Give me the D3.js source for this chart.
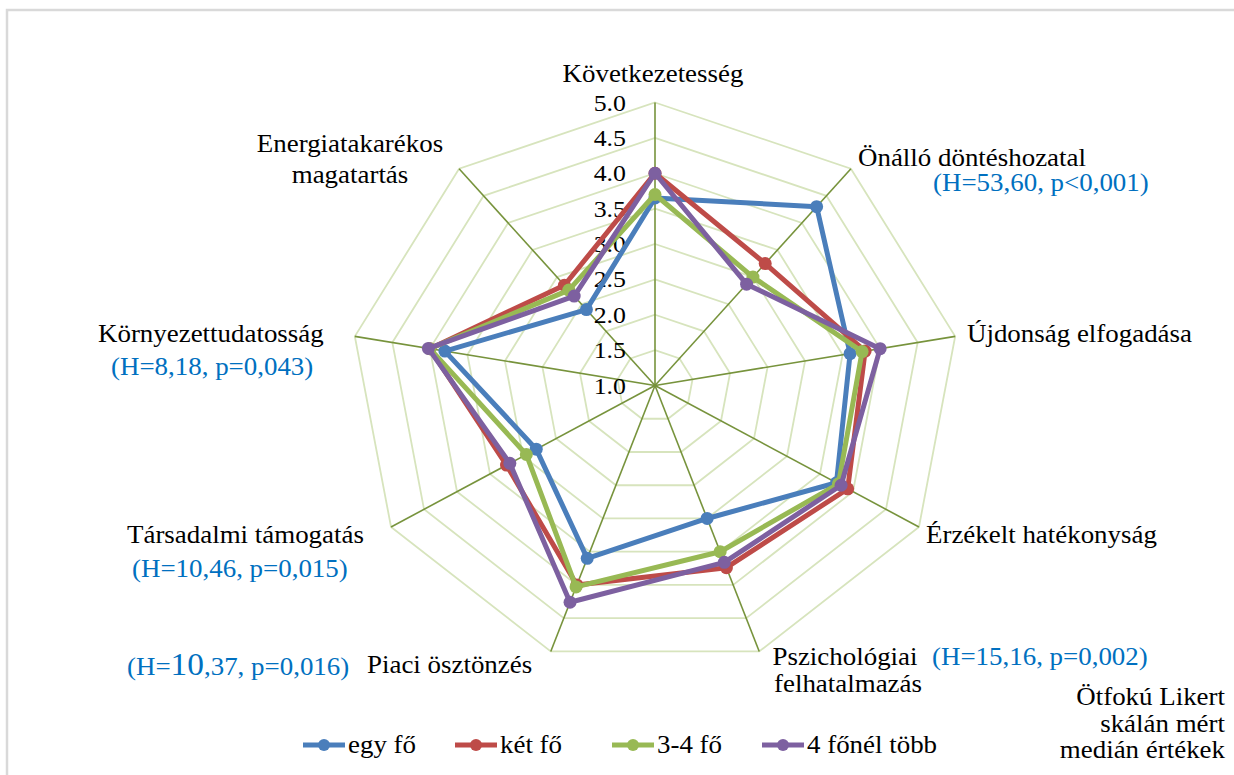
<!DOCTYPE html>
<html>
<head>
<meta charset="utf-8">
<script src="https://cdn.jsdelivr.net/npm/d3@7"></script>
<style>
  body { margin: 0; background: #fff; }
</style>
</head>
<body>
<div id="chart"></div>
<script>
// axis names, clockwise from the top
var axes = ["Következetesség", "Önálló döntéshozatal", "Újdonság elfogadása",
  "Érzékelt hatékonyság", "Pszichológiai felhatalmazás", "Piaci ösztönzés",
  "Társadalmi támogatás", "Környezettudatosság", "Energiatakarékos magatartás"];

var seriesNames = ["egy fő", "két fő", "3-4 fő", "4 főnél több"];

// median values
var egyFo   = [3.65, 4.3, 3.6, 3.75, 3.0, 3.6, 2.8, 3.8, 2.4];
var ketFo   = [4.0, 3.25, 3.8, 3.92, 3.74, 4.0, 3.25, 4.0, 2.85];
var haromNegy = [3.7, 3.0, 3.76, 3.78, 3.5, 4.03, 2.95, 4.0, 2.76];
var tobb    = [4.0, 2.87, 4.0, 3.82, 3.66, 4.26, 3.2, 4.02, 2.65];

var tickValues = [1.0, 1.5, 2.0, 2.5, 3.0, 3.5, 4.0, 4.5, 5.0];

var colors = ["#4a7ebb", "#be4b48", "#98b954", "#7d60a0"];

var svgWidth = 1234, svgHeight = 775;
var cx = 655, cy = 385.5, R = 283;
var SX = 1.077; // picture is a bit wider than tall
var serif = "'Liberation Serif', 'Times New Roman', 'DejaVu Serif', serif";

var svg = d3.select("#chart").append("svg")
  .attr("width", svgWidth)
  .attr("height", svgHeight);

// frame
svg.append("path")
  .attr("d", "M7," + svgHeight + " L7,10 L" + svgWidth + ",10")
  .attr("fill", "none")
  .attr("stroke", "#d9d9d9")
  .attr("stroke-width", 2.5);

var rScale = d3.scaleLinear().domain([1, 5]).range([0, R]);
var angle = d3.scaleLinear().domain([0, axes.length]).range([0, 2 * Math.PI]);

function px(i, v) { return cx + rScale(v) * Math.sin(angle(i)) * SX; }
function py(i, v) { return cy - rScale(v) * Math.cos(angle(i)); }

var idx = d3.range(axes.length);

// rings
var ringLine = d3.line().curve(d3.curveLinearClosed);
tickValues.slice(1).forEach(function(t) {
  svg.append("path")
    .attr("d", ringLine(idx.map(i => [px(i, t), py(i, t)])))
    .attr("fill", "none")
    .attr("stroke", "#d7e4bd")
    .attr("stroke-width", 1.8);
});

// spokes
svg.selectAll(".spoke").data(idx).enter().append("line")
  .attr("x1", cx).attr("y1", cy)
  .attr("x2", i => px(i, 5)).attr("y2", i => py(i, 5))
  .attr("stroke", "#77933c")
  .attr("stroke-width", 1.6);

function addText(x, y, str, anchor, color, size) {
  return svg.append("text")
    .attr("transform", "translate(" + x + "," + y + ") scale(" + SX + ",1)")
    .attr("text-anchor", anchor || "start")
    .attr("fill", color || "#000")
    .style("font-family", serif)
    .style("font-size", (size || 25) + "px")
    .text(str);
}

// tick labels
tickValues.forEach(function(t) {
  addText(626, py(0, t) + 8, t.toFixed(1), "end", "#000", 24);
});

// series
var allSeries = [egyFo, ketFo, haromNegy, tobb];
var drawLine = d3.line().curve(d3.curveLinearClosed);
allSeries.forEach(function(vals, s) {
  svg.append("path")
    .attr("d", drawLine(vals.map((v, i) => [px(i, v), py(i, v)])))
    .attr("fill", "none")
    .attr("stroke", colors[s])
    .attr("stroke-width", 5)
    .attr("stroke-linejoin", "round");
  svg.selectAll(".pt" + s).data(vals).enter().append("circle")
    .attr("cx", (v, i) => px(i, v))
    .attr("cy", (v, i) => py(i, v))
    .attr("r", 6.5)
    .attr("fill", colors[s]);
});

// axis labels
var blue = "#0070c0";
addText(653, 82, axes[0], "middle");
addText(858, 166, axes[1]);
addText(933, 191, "(H=53,60, p<0,001)", "start", blue);
addText(967, 342, axes[2]);
addText(926, 543, axes[3]);
addText(845, 665, "Pszichológiai", "middle");
addText(848, 692, "felhatalmazás", "middle");
addText(932, 665, "(H=15,16, p=0,002)", "start", blue);
addText(367, 673, axes[5]);
var h37 = addText(127, 675, "(H=", "start", blue);
h37.append("tspan").style("font-size", "31px").text("10");
h37.append("tspan").text(",37, p=0,016)");
addText(127, 543, axes[6]);
addText(132, 577, "(H=10,46, p=0,015)", "start", blue);
addText(98, 342, axes[7]);
addText(111, 375, "(H=8,18, p=0,043)", "start", blue);
addText(350, 152, "Energiatakarékos", "middle");
addText(350, 183, "magatartás", "middle");

// note
addText(1225, 705, "Ötfokú Likert", "end");
addText(1225, 732, "skálán mért", "end");
addText(1225, 758, "medián értékek", "end");

// legend
var legendX = [303, 455, 612, 762];
seriesNames.forEach(function(name, s) {
  var x0 = legendX[s];
  svg.append("line")
    .attr("x1", x0).attr("x2", x0 + 42)
    .attr("y1", 745).attr("y2", 745)
    .attr("stroke", colors[s]).attr("stroke-width", 5);
  svg.append("circle")
    .attr("cx", x0 + 21).attr("cy", 745).attr("r", 6)
    .attr("fill", colors[s]);
  addText(x0 + 45, 753, name);
});
</script>
</body>
</html>
